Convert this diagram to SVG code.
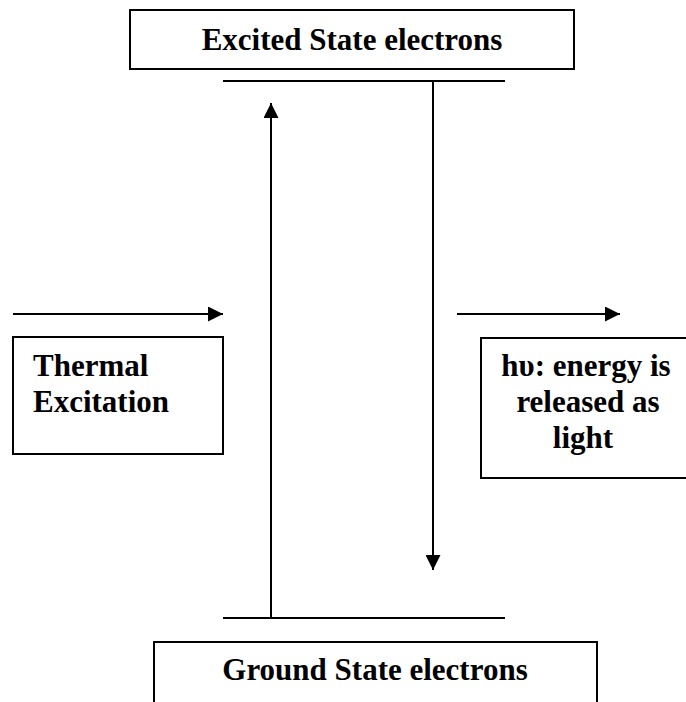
<svg xmlns="http://www.w3.org/2000/svg" width="686" height="702" viewBox="0 0 686 702">
<defs>
<style>
.box{fill:#fff;stroke:#000;stroke-width:2}
.ln{stroke:#000;stroke-width:2;fill:none}
.t{font-family:"Liberation Serif","Times New Roman",serif;font-weight:bold;font-size:31px;fill:#000}
</style>
<marker id="ah" viewBox="0 0 15 15" refX="15" refY="7.5" markerWidth="15" markerHeight="15" markerUnits="userSpaceOnUse" orient="auto">
<path d="M0,0 L15,7.5 L0,15 Z" fill="#000"/>
</marker>
</defs>
<rect width="686" height="702" fill="#fff"/>
<g id="excited">
<rect class="box" x="130" y="10" width="444" height="59"/>
<text class="t" x="352" y="50" text-anchor="middle">Excited State electrons</text>
</g>
<g id="thermal">
<rect class="box" x="13" y="337" width="210" height="117"/>
<text class="t" x="33" y="376">Thermal</text>
<text class="t" x="33" y="412">Excitation</text>
</g>
<g id="light">
<rect class="box" x="481" y="338" width="215" height="140"/>
<text class="t" x="586" y="376" text-anchor="middle">hυ: energy is</text>
<text class="t" x="588" y="412" text-anchor="middle">released as</text>
<text class="t" x="583" y="448" text-anchor="middle">light</text>
</g>
<g id="ground">
<rect class="box" x="154" y="642" width="443" height="80"/>
<text class="t" x="375" y="680" text-anchor="middle">Ground State electrons</text>
</g>
<g id="connectors">
<line class="ln" x1="223" y1="81" x2="505" y2="81"/>
<line class="ln" x1="223" y1="618" x2="505" y2="618"/>
<line class="ln" x1="271" y1="618" x2="271" y2="103" marker-end="url(#ah)"/>
<line class="ln" x1="433" y1="81" x2="433" y2="570" marker-end="url(#ah)"/>
<line class="ln" x1="13" y1="314" x2="223" y2="314" marker-end="url(#ah)"/>
<line class="ln" x1="457" y1="314" x2="620" y2="314" marker-end="url(#ah)"/>
</g>
</svg>
